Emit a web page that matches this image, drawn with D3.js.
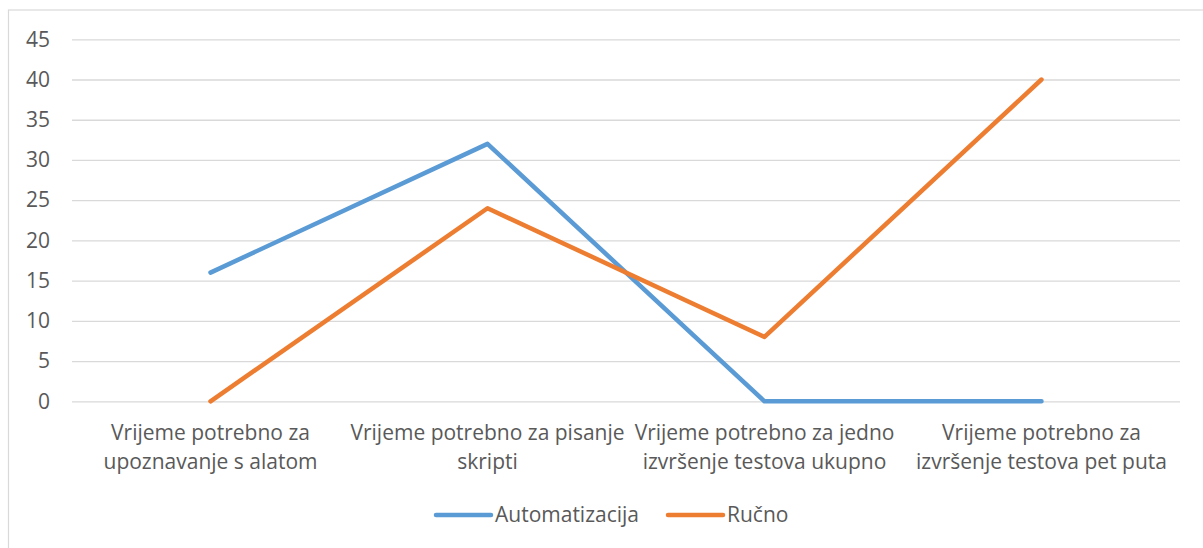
<!DOCTYPE html>
<html><head><meta charset="utf-8">
<script src="https://cdn.jsdelivr.net/npm/d3@7"></script>
<style>
html,body{margin:0;padding:0;background:#fff;}
svg{display:block;}
text{font-family:"Open Sans",sans-serif;fill:#595959;}
</style></head>
<body>
<svg id="chart" width="1203" height="548"></svg>
<script>
const categories = [
  ["Vrijeme potrebno za", "upoznavanje s alatom"],
  ["Vrijeme potrebno za pisanje", "skripti"],
  ["Vrijeme potrebno za jedno", "izvršenje testova ukupno"],
  ["Vrijeme potrebno za", "izvršenje testova pet puta"]
];
const seriesNames = ["Automatizacija", "Ručno"];
const automatizacija = [16, 32, 0, 0];
const rucno = [0, 24, 8, 40];
const yTicks = [0, 5, 10, 15, 20, 25, 30, 35, 40, 45];
const colors = ["#5B9BD5", "#ED7D31"];
const FS = "21px";

const svg = d3.select("#chart");
// outer chart border
svg.append("rect").attr("x", 8.5).attr("y", 10).attr("width", 1220).attr("height", 560)
  .attr("fill", "none").attr("stroke", "#d9d9d9").attr("stroke-width", 1.2);

const pLeft = 72, pRight = 1180, pTop = 39.3, pBottom = 401.3;
const x = d3.scaleBand().domain(d3.range(categories.length)).range([pLeft, pRight]);
const y = d3.scaleLinear().domain([0, 45]).range([pBottom, pTop]);

// gridlines
const yAxis = d3.axisLeft(y).tickValues(yTicks).tickSize(-(pRight - pLeft)).tickPadding(22);
const gy = svg.append("g").attr("transform", `translate(${pLeft},0)`).call(yAxis);
gy.select(".domain").remove();
gy.selectAll(".tick line").attr("stroke", "#d9d9d9").attr("stroke-width", 1.3);
gy.selectAll(".tick text").attr("font-size", FS).style("fill", "#595959").attr("font-family", "Open Sans");

// category labels
const xAxis = d3.axisBottom(x).tickSize(0).tickFormat(() => "");
const gx = svg.append("g").attr("transform", `translate(0,${pBottom})`).call(xAxis);
gx.select(".domain").remove();
gx.selectAll(".tick").each(function(d) {
  const t = d3.select(this).append("text").attr("text-anchor", "middle").attr("font-size", FS);
  categories[d].forEach((line, i) => {
    t.append("tspan").attr("x", 0).attr("y", 39 + i * 28.5).text(line);
  });
});

const cx = i => x(i) + x.bandwidth() / 2;
const line = d3.line().x((d, i) => cx(i)).y(d => y(d));
[automatizacija, rucno].forEach((s, k) => {
  svg.append("path").datum(s).attr("d", line).attr("fill", "none")
    .attr("stroke", colors[k]).attr("stroke-width", 4.5)
    .attr("stroke-linecap", "round").attr("stroke-linejoin", "round");
});

// legend
const legendItems = [{x: 436, tx: 495}, {x: 668, tx: 727}];
seriesNames.forEach((n, k) => {
  const g = svg.append("g");
  g.append("line").attr("x1", legendItems[k].x).attr("x2", legendItems[k].x + 55)
    .attr("y1", 515).attr("y2", 515).attr("stroke", colors[k]).attr("stroke-width", 4.5)
    .attr("stroke-linecap", "round");
  g.append("text").attr("x", legendItems[k].tx).attr("y", 522).attr("font-size", FS).text(n);
});
</script>
</body></html>
